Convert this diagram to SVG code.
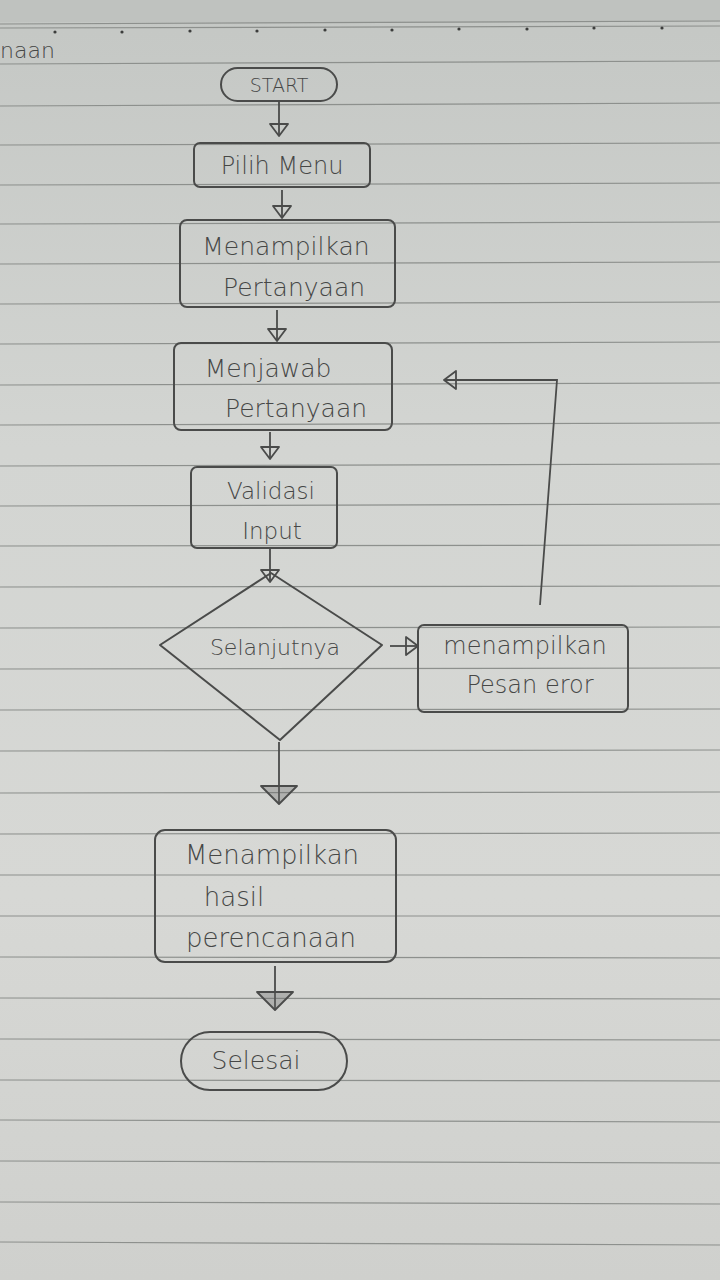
<svg xmlns="http://www.w3.org/2000/svg" width="720" height="1280" viewBox="0 0 720 1280">
<defs>
<linearGradient id="paper" x1="0" y1="0" x2="0" y2="1">
<stop offset="0" stop-color="#c4c7c4"/>
<stop offset="0.35" stop-color="#d3d5d2"/>
<stop offset="0.7" stop-color="#d7d8d5"/>
<stop offset="1" stop-color="#cfd0cd"/>
</linearGradient>
<marker id="tri" viewBox="0 0 16 20" refX="14" refY="10" markerWidth="16" markerHeight="20" markerUnits="userSpaceOnUse" orient="auto">
<path d="M2,1 L2,19 L14,10 Z" fill="none" stroke="#4a4b4a" stroke-width="1.8" stroke-linejoin="round"/>
</marker>
<marker id="tri-big" viewBox="0 0 22 38" refX="20" refY="19" markerWidth="22" markerHeight="38" markerUnits="userSpaceOnUse" orient="auto">
<path d="M2,1 L2,37 L20,19 Z" fill="#6a6b6a" fill-opacity="0.35" stroke="#4a4b4a" stroke-width="1.8" stroke-linejoin="round"/>
</marker>
</defs>
<style>
.rule{stroke:#8d908d;stroke-width:1.2;fill:none}
.shape{fill:none;stroke:#4a4b4a;stroke-width:2;stroke-linejoin:round}
.ink{fill:none;stroke:#4a4b4a;stroke-width:1.8}
.t{font-family:"DejaVu Sans","Liberation Sans",sans-serif;font-weight:300;fill:#464746;text-anchor:middle}
</style>
<rect x="0" y="0" width="720" height="1280" fill="url(#paper)"/>
<rect x="0" y="0" width="720" height="22" fill="#bfc2bf"/>
<g id="paper-lines">
<line class="rule" x1="0" y1="24" x2="720" y2="21" stroke-width="2"/>
<line class="rule" x1="0" y1="28" x2="720" y2="26"/>
<g fill="#3c3d3c">
<circle cx="55" cy="32" r="1.6"/><circle cx="122" cy="32" r="1.6"/><circle cx="190" cy="31" r="1.6"/><circle cx="257" cy="31" r="1.6"/><circle cx="325" cy="30" r="1.6"/><circle cx="392" cy="30" r="1.6"/><circle cx="459" cy="29" r="1.6"/><circle cx="527" cy="29" r="1.6"/><circle cx="594" cy="28" r="1.6"/><circle cx="662" cy="28" r="1.6"/>
</g>
<line class="rule" x1="0" y1="64" x2="720" y2="61"/>
<line class="rule" x1="0" y1="106" x2="720" y2="103"/>
<line class="rule" x1="0" y1="145" x2="720" y2="143"/>
<line class="rule" x1="0" y1="185" x2="720" y2="183"/>
<line class="rule" x1="0" y1="224" x2="720" y2="222"/>
<line class="rule" x1="0" y1="264" x2="720" y2="262"/>
<line class="rule" x1="0" y1="304" x2="720" y2="302"/>
<line class="rule" x1="0" y1="344" x2="720" y2="342"/>
<line class="rule" x1="0" y1="385" x2="720" y2="383"/>
<line class="rule" x1="0" y1="425" x2="720" y2="423"/>
<line class="rule" x1="0" y1="466" x2="720" y2="464"/>
<line class="rule" x1="0" y1="506" x2="720" y2="504"/>
<line class="rule" x1="0" y1="546" x2="720" y2="545"/>
<line class="rule" x1="0" y1="587" x2="720" y2="586"/>
<line class="rule" x1="0" y1="628" x2="720" y2="627"/>
<line class="rule" x1="0" y1="669" x2="720" y2="668"/>
<line class="rule" x1="0" y1="710" x2="720" y2="709"/>
<line class="rule" x1="0" y1="751" x2="720" y2="750"/>
<line class="rule" x1="0" y1="793" x2="720" y2="792"/>
<line class="rule" x1="0" y1="834" x2="720" y2="833"/>
<line class="rule" x1="0" y1="875" x2="720" y2="875"/>
<line class="rule" x1="0" y1="916" x2="720" y2="916"/>
<line class="rule" x1="0" y1="957" x2="720" y2="958"/>
<line class="rule" x1="0" y1="998" x2="720" y2="999"/>
<line class="rule" x1="0" y1="1039" x2="720" y2="1040"/>
<line class="rule" x1="0" y1="1080" x2="720" y2="1081"/>
<line class="rule" x1="0" y1="1120" x2="720" y2="1122"/>
<line class="rule" x1="0" y1="1161" x2="720" y2="1163"/>
<line class="rule" x1="0" y1="1202" x2="720" y2="1204"/>
<line class="rule" x1="0" y1="1242" x2="720" y2="1245"/>
</g>
<text class="t" x="0" y="58" style="text-anchor:start" font-size="22">naan</text>
<g id="connectors">
<line class="ink" x1="279" y1="101" x2="279" y2="136" marker-end="url(#tri)"/>
<line class="ink" x1="282" y1="190" x2="282" y2="218" marker-end="url(#tri)"/>
<line class="ink" x1="277" y1="310" x2="277" y2="341" marker-end="url(#tri)"/>
<line class="ink" x1="270" y1="432" x2="270" y2="459" marker-end="url(#tri)"/>
<line class="ink" x1="270" y1="548" x2="270" y2="582" marker-end="url(#tri)"/>
<line class="ink" x1="390" y1="646" x2="418" y2="646" marker-end="url(#tri)"/>
<polyline class="ink" points="540,605 557,380 444,380" marker-end="url(#tri)"/>
<line class="ink" x1="279" y1="742" x2="279" y2="804" marker-end="url(#tri-big)"/>
<line class="ink" x1="275" y1="966" x2="275" y2="1010" marker-end="url(#tri-big)"/>
</g>
<g id="start">
<rect class="shape" x="221" y="68" width="116" height="33" rx="16.5"/>
<text class="t" x="279" y="92" font-size="19">START</text>
</g>
<g id="pilih-menu">
<rect class="shape" x="194" y="143" width="176" height="44" rx="6"/>
<text class="t" x="282" y="174" font-size="24">Pilih  Menu</text>
</g>
<g id="menampilkan-pertanyaan">
<rect class="shape" x="180" y="220" width="215" height="87" rx="7"/>
<text class="t" x="286" y="255" font-size="25">Menampilkan</text>
<text class="t" x="294" y="296" font-size="25">Pertanyaan</text>
</g>
<g id="menjawab-pertanyaan">
<rect class="shape" x="174" y="343" width="218" height="87" rx="7"/>
<text class="t" x="268" y="377" font-size="25">Menjawab</text>
<text class="t" x="296" y="417" font-size="25">Pertanyaan</text>
</g>
<g id="validasi-input">
<rect class="shape" x="191" y="467" width="146" height="81" rx="6"/>
<text class="t" x="271" y="499" font-size="23">Validasi</text>
<text class="t" x="272" y="539" font-size="23">Input</text>
</g>
<g id="selanjutnya">
<polygon class="shape" points="271,573 382,645 280,740 160,645"/>
<text class="t" x="275" y="655" font-size="22">Selanjutnya</text>
</g>
<g id="pesan-eror">
<rect class="shape" x="418" y="625" width="210" height="87" rx="6"/>
<text class="t" x="525" y="654" font-size="24">menampilkan</text>
<text class="t" x="530" y="693" font-size="24">Pesan  eror</text>
</g>
<g id="hasil-perencanaan">
<rect class="shape" x="155" y="830" width="241" height="132" rx="10"/>
<text class="t" x="272" y="864" font-size="26">Menampilkan</text>
<text class="t" x="234" y="906" font-size="26">hasil</text>
<text class="t" x="271" y="947" font-size="26">perencanaan</text>
</g>
<g id="selesai">
<rect class="shape" x="181" y="1032" width="166" height="58" rx="29"/>
<text class="t" x="256" y="1069" font-size="25">Selesai</text>
</g>
</svg>
